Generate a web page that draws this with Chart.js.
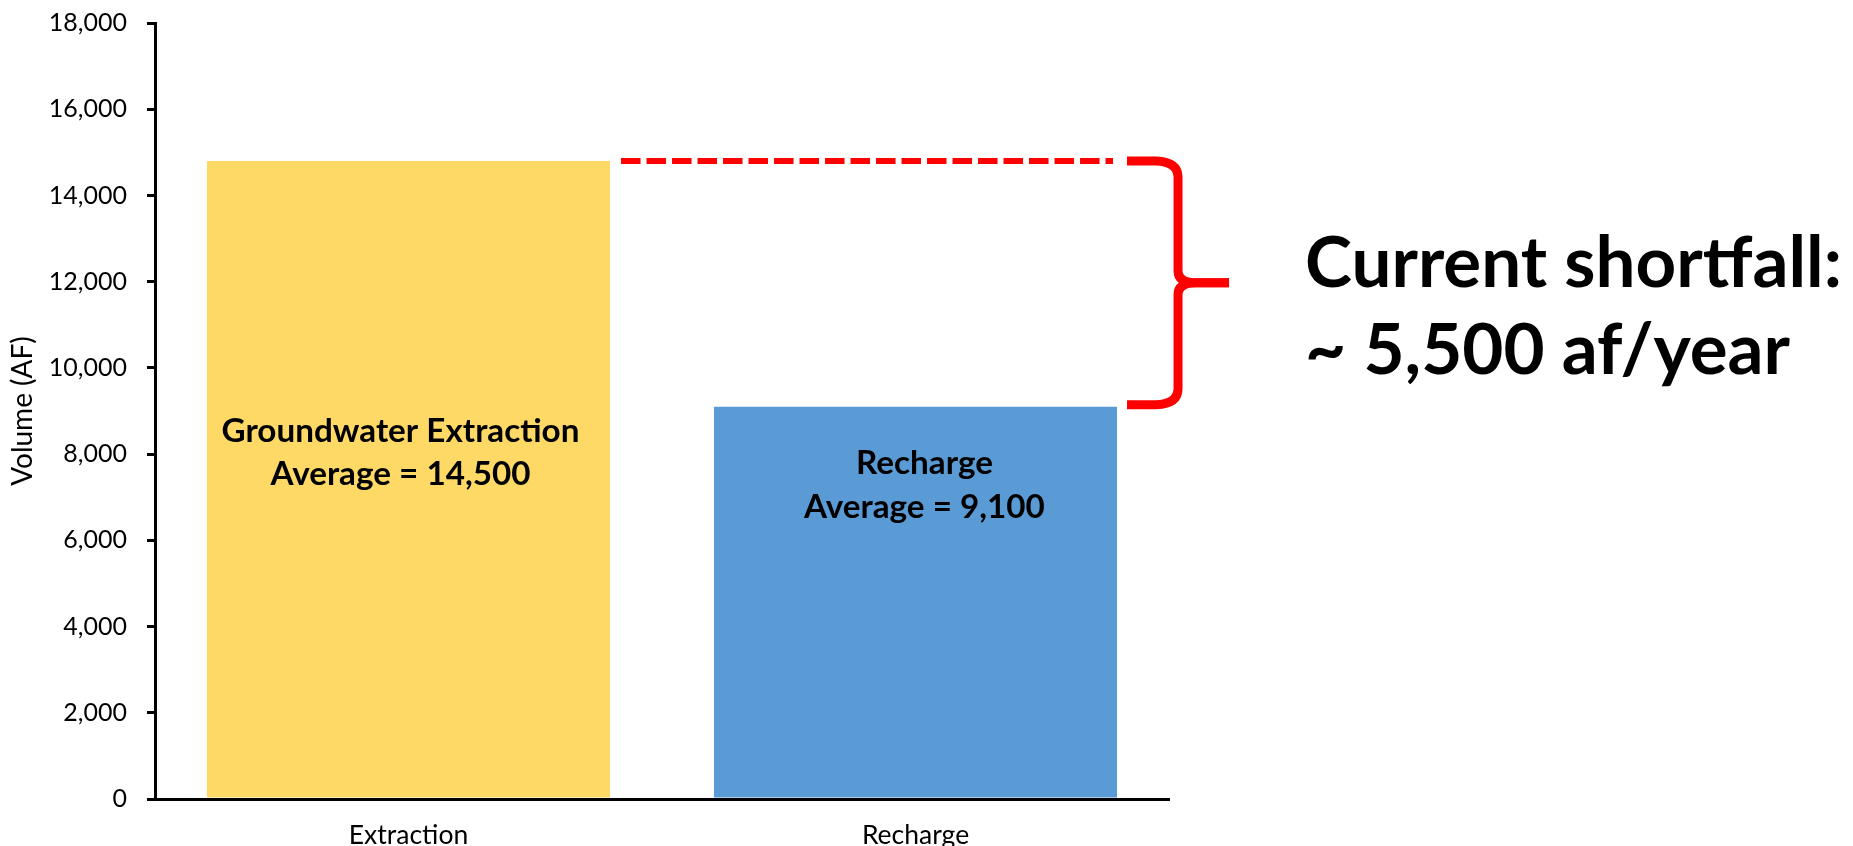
<!DOCTYPE html>
<html>
<head>
<meta charset="utf-8">
<script src="https://cdn.jsdelivr.net/npm/chart.js@4.4.1/dist/chart.umd.min.js"></script>
<style>
  html, body { margin: 0; padding: 0; background: #ffffff; }
  #wrap { width: 1853px; height: 846px; position: relative; }
</style>
</head>
<body>
<div id="wrap"><canvas id="c"></canvas></div>
<script>
// ---- data ----
const categories = ['Extraction', 'Recharge'];
const volumes = [14800, 9100];
const yTickValues = [0, 2000, 4000, 6000, 8000, 10000, 12000, 14000, 16000, 18000];
const barLabels = [
  ['Groundwater Extraction', 'Average = 14,500'],
  ['Recharge', 'Average = 9,100']
];
const shortfallLabel = ['Current shortfall:', '~ 5,500 af/year'];
const yTitle = 'Volume (AF)';

// ---- styles ----
const barColors = ['#FFD966', '#5B9BD5'];
const RED = '#FF0000';
const FAMILY = 'Lato, "Open Sans", sans-serif';

function fitSize(ctx, text, weight, target) {
  ctx.font = weight + ' 100px ' + FAMILY;
  const w = ctx.measureText(text).width;
  return 100 * target / w;
}

const annotations = {
  id: 'annotations',
  afterDatasetsDraw(chart) {
    const ctx = chart.ctx;
    const ys = chart.scales.y;
    const bars = chart.getDatasetMeta(0).data;
    const yTop = ys.getPixelForValue(volumes[0]);
    const yBot = ys.getPixelForValue(volumes[1]);
    const r0 = bars[0].x + bars[0].width / 2;
    const r1 = bars[1].x + bars[1].width / 2;

    ctx.save();
    // dashed line at extraction level
    ctx.strokeStyle = RED;
    ctx.lineWidth = 6;
    ctx.setLineDash([19.5, 6]);
    ctx.beginPath();
    ctx.moveTo(r0 + 11, yTop);
    ctx.lineTo(r1 - 4, yTop);
    ctx.stroke();
    ctx.setLineDash([]);

    // curly bracket
    const x0 = r1 + 10, xv = x0 + 51, xTip = x0 + 102;
    const yA = yTop, yB = yBot - 2;
    const yMid = (yA + yB) / 2;
    ctx.lineWidth = 9;
    ctx.lineCap = 'butt';
    ctx.lineJoin = 'round';
    ctx.beginPath();
    ctx.moveTo(x0, yA);
    ctx.lineTo(xv - 22, yA);
    ctx.quadraticCurveTo(xv, yA + 1, xv, yA + 16);
    ctx.lineTo(xv, yMid - 12);
    ctx.quadraticCurveTo(xv, yMid, xv + 18, yMid);
    ctx.lineTo(xTip, yMid);
    ctx.stroke();
    ctx.beginPath();
    ctx.moveTo(xTip, yMid);
    ctx.lineTo(xv + 18, yMid);
    ctx.quadraticCurveTo(xv, yMid, xv, yMid + 12);
    ctx.lineTo(xv, yB - 16);
    ctx.quadraticCurveTo(xv, yB - 1, xv - 22, yB);
    ctx.lineTo(x0, yB);
    ctx.stroke();

    // labels inside bars
    ctx.fillStyle = '#000000';
    ctx.textAlign = 'center';
    ctx.textBaseline = 'alphabetic';
    const bs = fitSize(ctx, barLabels[0][0], 'bold', 358);
    ctx.font = 'bold ' + bs + 'px ' + FAMILY;
    ctx.fillText(barLabels[0][0], bars[0].x - 8, bars[0].y + 281);
    ctx.fillText(barLabels[0][1], bars[0].x - 8, bars[0].y + 324);
    ctx.fillText(barLabels[1][0], bars[1].x + 9, bars[1].y + 67);
    ctx.fillText(barLabels[1][1], bars[1].x + 9, bars[1].y + 111);

    // shortfall text
    const fs = fitSize(ctx, shortfallLabel[0], 'bold', 537);
    ctx.font = 'bold ' + fs + 'px ' + FAMILY;
    ctx.textAlign = 'left';
    ctx.fillText(shortfallLabel[0], xTip + 76, yMid + 4);
    ctx.fillText(shortfallLabel[1], xTip + 76, yMid + 91);
    ctx.restore();
  }
};

Chart.defaults.color = '#000000';
Chart.defaults.font.family = FAMILY;

new Chart(document.getElementById('c'), {
  type: 'bar',
  data: {
    labels: categories,
    datasets: [{
      data: volumes,
      backgroundColor: barColors,
      borderWidth: 0,
      barPercentage: 1.0,
      categoryPercentage: 0.795
    }]
  },
  options: {
    responsive: true,
    maintainAspectRatio: false,
    animation: false,
    events: [],
    layout: { padding: { top: 23, right: 684, bottom: 0, left: 0 } },
    plugins: {
      legend: { display: false },
      tooltip: { enabled: false }
    },
    scales: {
      x: {
        grid: { display: false, drawTicks: false },
        border: { display: true, color: '#000000', width: 3 },
        ticks: { font: { size: 26.5 }, padding: 21, color: '#000000' },
        afterFit(scale) { scale.height = 47; }
      },
      y: {
        min: 0,
        max: 18000,
        afterBuildTicks(scale) { scale.ticks = yTickValues.map(v => ({ value: v })); },
        grid: { drawOnChartArea: false, drawTicks: true, tickLength: 8, lineWidth: 3, color: '#000000' },
        border: { display: true, color: '#000000', width: 3 },
        ticks: {
          font: { size: 25 },
          padding: 20,
          color: '#000000',
          callback: (v) => Number(v).toLocaleString('en-US')
        },
        title: { display: true, text: yTitle, font: { size: 28 }, padding: { top: 6, bottom: 0 }, color: '#000000' },
        afterFit(scale) {
          scale.width = 155;
          scale.paddingTop = 10;
          scale.paddingBottom = 10;
        }
      }
    }
  },
  plugins: [annotations]
});
</script>
</body>
</html>
